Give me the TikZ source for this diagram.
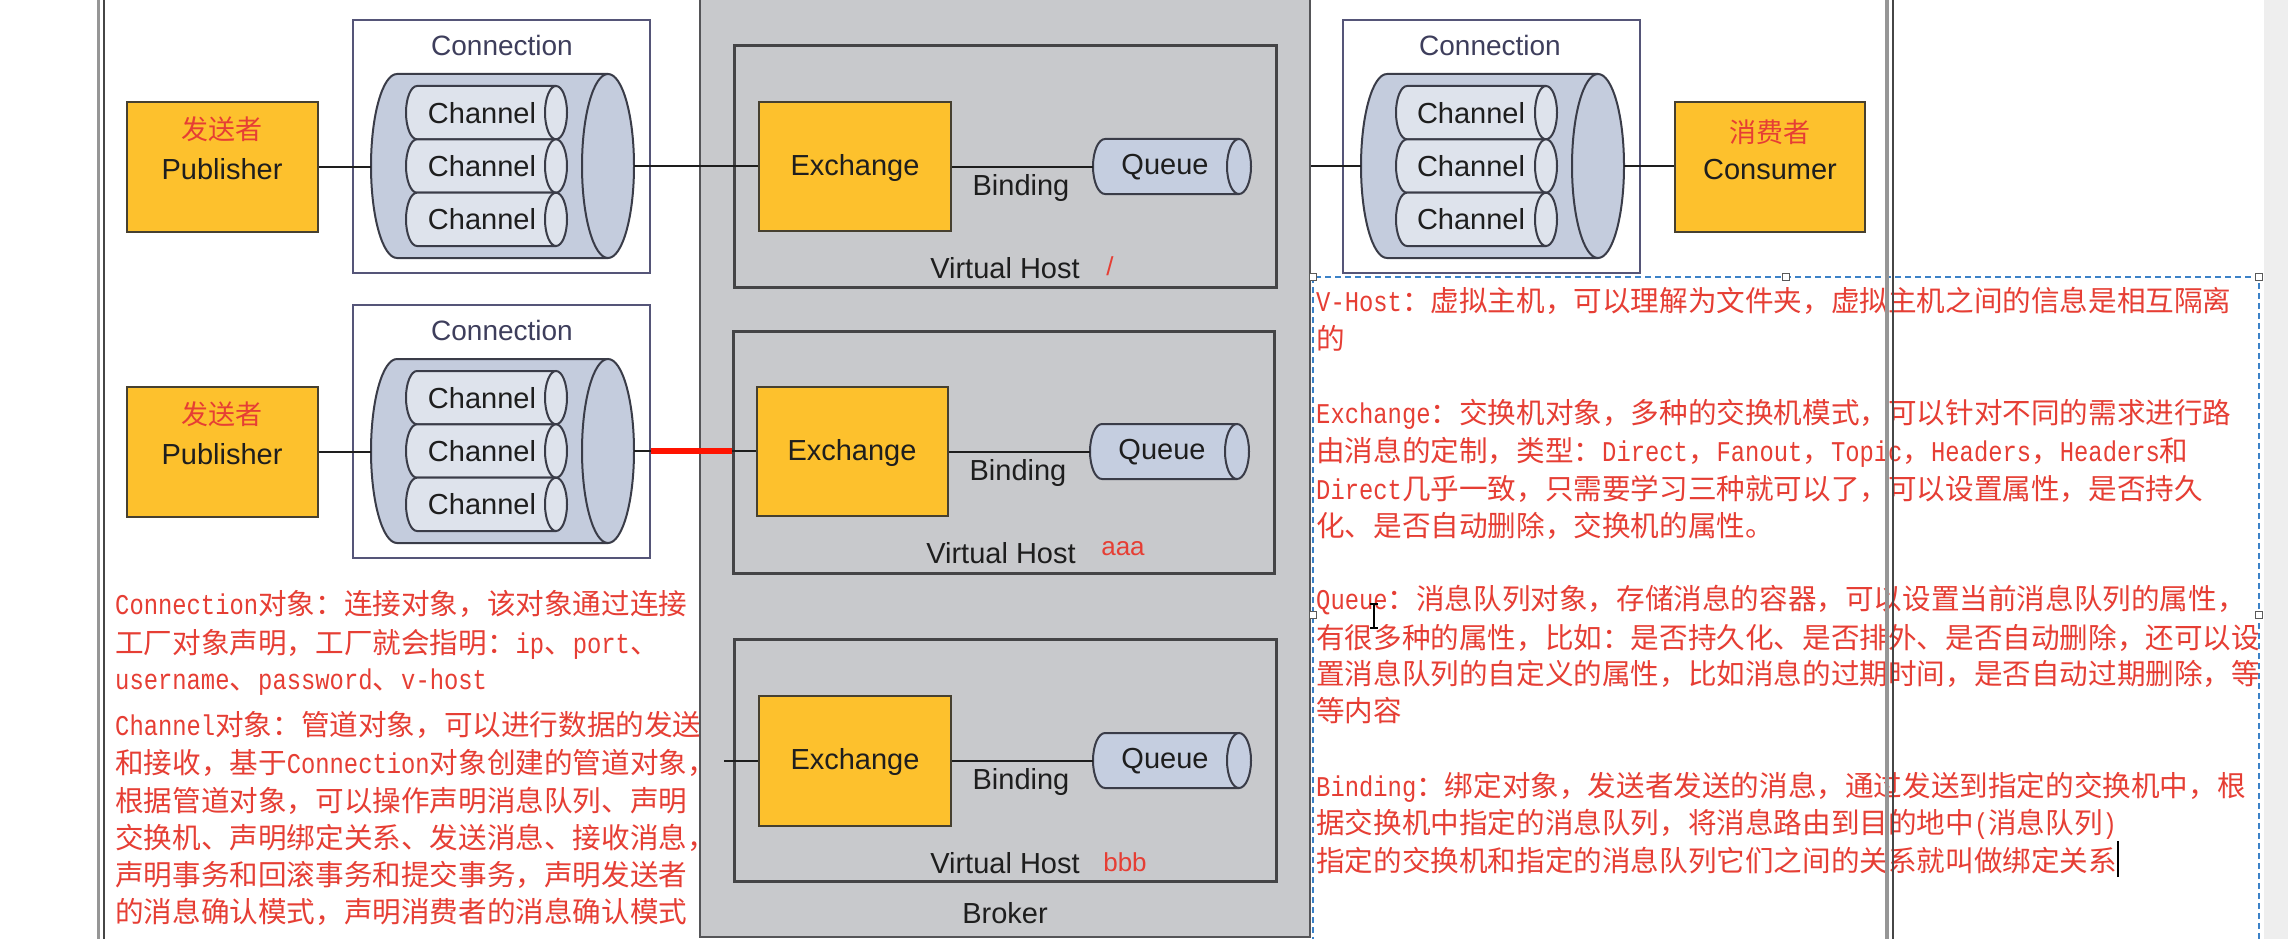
\documentclass[tikz,border=0pt]{standalone}
\usepackage{fontspec}
\setmainfont{Liberation Sans}
\newfontfamily\cjk{Noto Sans CJK SC}
\newfontfamily\lat[FakeStretch=0.8333]{Liberation Mono}
\definecolor{txtred}{RGB}{230,62,52}
\definecolor{brokerfill}{RGB}{200,201,204}
\definecolor{brokeredge}{RGB}{85,85,88}
\definecolor{vhedge}{RGB}{68,68,70}
\definecolor{exfill}{RGB}{253,193,45}
\definecolor{exedge}{RGB}{70,64,48}
\definecolor{cylfill}{RGB}{196,204,221}
\definecolor{chanfill}{RGB}{222,227,236}
\definecolor{quefill}{RGB}{197,206,224}
\definecolor{cyledge}{RGB}{58,60,72}
\definecolor{connedge}{RGB}{85,85,120}
\definecolor{conntext}{RGB}{62,62,92}
\definecolor{labeltext}{RGB}{30,30,30}
\definecolor{dashblue}{RGB}{60,130,200}
\definecolor{stripgrey}{RGB}{238,238,238}
\definecolor{framegrey}{RGB}{150,150,150}
\definecolor{framedark}{RGB}{70,70,70}
\newcommand{\hcylinder}[6]{%
  \pgfmathsetmacro\cyA{#1+#5}%
  \pgfmathsetmacro\cyB{#2-#5}%
  \pgfmathsetmacro\cyM{(#3+#4)/2}%
  \pgfmathsetmacro\cyK{0.5523*#5}%
  \pgfmathsetmacro\cyR{(#4-#3)/2}%
  \pgfmathsetmacro\cyKy{0.5523*\cyR}%
  \filldraw[fill=#6,draw=cyledge,line width=2pt,line join=round]
    (\cyA,#3) -- (\cyB,#3) -- (\cyB,#4) -- (\cyA,#4)
    .. controls (\cyA-\cyK,#4) and (#1,\cyM+\cyKy) .. (#1,\cyM)
    .. controls (#1,\cyM-\cyKy) and (\cyA-\cyK,#3) .. (\cyA,#3) -- cycle;
  \filldraw[fill=#6,draw=cyledge,line width=2pt] (\cyB,\cyM) ellipse [x radius=#5, y radius=\cyR];
}
\tikzset{
  lbl/.style={font=\fontsize{29pt}{34pt}\selectfont, text=labeltext, inner sep=0pt},
  conlbl/.style={font=\fontsize{28pt}{34pt}\selectfont, text=conntext, inner sep=0pt},
  redlbl/.style={font=\fontsize{26pt}{30pt}\selectfont, text=txtred, inner sep=0pt},
  cnlbl/.style={font=\cjk\fontsize{27pt}{30pt}\selectfont, text=txtred, inner sep=0pt},
  ybox/.style={draw=exedge, line width=2pt, fill=exfill, inner sep=0pt},
  vhbox/.style={draw=vhedge, line width=3pt, fill=brokerfill, inner sep=0pt},
  connbox/.style={draw=connedge, line width=2.5pt, fill=white, inner sep=0pt},
  anchorbox/.style={draw=none, inner sep=0pt},
  conn/.style={draw=labeltext, line width=2pt},
  redline/.style={draw=red!85!orange, line width=6pt},
  ptxt/.style={font=\cjk\fontsize{28.6pt}{30pt}\selectfont, text=txtred, inner sep=0pt, anchor=base west},
  handlebox/.style={draw=black!65, fill=white, line width=1.2pt, minimum size=7pt, inner sep=0pt},
  cursorline/.style={draw=black, line width=1.5pt},
}
\begin{document}
\begin{tikzpicture}[x=1pt,y=-1pt]
\useasboundingbox (0,0) rectangle (2288,939);
\fill[white] (0,0) rectangle (2288,939);
\fill[stripgrey] (2264,0) rectangle (2288,939);

% left explanatory text
\node[ptxt] (l1) at (115,614) {{\lat Connection}对象：连接对象，该对象通过连接};
\node[ptxt] (l2) at (115,653) {工厂对象声明，工厂就会指明：{\lat ip}、{\lat port}、};
\node[ptxt] (l3) at (115,689) {{\lat username}、{\lat password}、{\lat v-host}};
\node[ptxt] (l4) at (115,735) {{\lat Channel}对象：管道对象，可以进行数据的发送};
\node[ptxt] (l5) at (115,773) {和接收，基于{\lat Connection}对象创建的管道对象，};
\node[ptxt] (l6) at (115,811) {根据管道对象，可以操作声明消息队列、声明};
\node[ptxt] (l7) at (115,848) {交换机、声明绑定关系、发送消息、接收消息，};
\node[ptxt] (l8) at (115,885) {声明事务和回滚事务和提交事务，声明发送者};
\node[ptxt] (l9) at (115,922) {的消息确认模式，声明消费者的消息确认模式};

% broker
\node[draw=brokeredge, line width=2pt, fill=brokerfill, inner sep=0pt,
      minimum width=610pt, minimum height=957pt] (broker) at (1005,458.5) {};
\node[lbl] (brokert) at (1005,913) {Broker};

% virtual hosts
\node[vhbox, minimum width=542pt, minimum height=241pt] (vh1) at (1005,166.5) {};
\node[vhbox, minimum width=541pt, minimum height=242pt] (vh2) at (1003.5,452) {};
\node[vhbox, minimum width=542pt, minimum height=242pt] (vh3) at (1005,760) {};

\node[ybox, minimum width=192pt, minimum height=129pt] (ex1) at (855,166.5) {};
\node[ybox, minimum width=191pt, minimum height=129pt] (ex2) at (852.5,451.5) {};
\node[ybox, minimum width=192pt, minimum height=130pt] (ex3) at (855,761) {};
\node[lbl] (ex1t) at (855,168) {Exchange};
\node[lbl] (ex2t) at (852,453) {Exchange};
\node[lbl] (ex3t) at (855,762) {Exchange};

\hcylinder{1093}{1251}{139}{194}{12}{quefill}
\hcylinder{1090}{1249}{424}{479}{12}{quefill}
\hcylinder{1093}{1251}{733}{788}{12}{quefill}
\node[anchorbox, minimum width=158pt, minimum height=55pt] (q1) at (1172,166.5) {};
\node[anchorbox, minimum width=159pt, minimum height=55pt] (q2) at (1169.5,451.5) {};
\node[anchorbox, minimum width=158pt, minimum height=55pt] (q3) at (1172,760.5) {};
\node[lbl] (q1t) at (1165,167) {Queue};
\node[lbl] (q2t) at (1162,452) {Queue};
\node[lbl] (q3t) at (1165,761) {Queue};

\node[lbl] (b1) at (1021,188) {Binding};
\node[lbl] (b2) at (1018,473) {Binding};
\node[lbl] (b3) at (1021,782) {Binding};
\node[lbl] (v1) at (1005,268) {Virtual Host};
\node[lbl] (v2) at (1001,553) {Virtual Host};
\node[lbl] (v3) at (1005,863) {Virtual Host};
\node[redlbl] (r1lbl) at (1110,266) {/};
\node[redlbl] (r2lbl) at (1123,549) {aaa};
\node[redlbl] (r3lbl) at (1125,862) {bbb};

% connections (left, two rows) and right
\node[connbox, minimum width=297pt, minimum height=253pt] (conn1) at (501.5,146.5) {};
\node[connbox, minimum width=297pt, minimum height=253pt] (conn2) at (501.5,431.5) {};
\node[connbox, minimum width=297pt, minimum height=253pt] (conn3) at (1491.5,146.5) {};
\node[conlbl] (conn1t) at (502,45) {Connection};
\node[conlbl] (conn2t) at (502,330) {Connection};
\node[conlbl] (conn3t) at (1490,45) {Connection};

\hcylinder{371}{634}{74}{258}{26}{cylfill}
\hcylinder{371}{634}{359}{543}{26}{cylfill}
\hcylinder{1361}{1624}{74}{258}{26}{cylfill}
\node[anchorbox, minimum width=263pt, minimum height=184pt] (cyl1) at (502.5,166) {};
\node[anchorbox, minimum width=263pt, minimum height=184pt] (cyl2) at (502.5,451) {};
\node[anchorbox, minimum width=263pt, minimum height=184pt] (cyl3) at (1492.5,166) {};

% channels
\hcylinder{406}{567}{86}{139.3}{11}{chanfill}
\hcylinder{406}{567}{139.3}{192.7}{11}{chanfill}
\hcylinder{406}{567}{192.7}{246}{11}{chanfill}
\hcylinder{406}{567}{371}{424.3}{11}{chanfill}
\hcylinder{406}{567}{424.3}{477.7}{11}{chanfill}
\hcylinder{406}{567}{477.7}{531}{11}{chanfill}
\hcylinder{1396}{1557}{86}{139.3}{11}{chanfill}
\hcylinder{1396}{1557}{139.3}{192.7}{11}{chanfill}
\hcylinder{1396}{1557}{192.7}{246}{11}{chanfill}
\node[lbl] (c11) at (482,113) {Channel};
\node[lbl] (c12) at (482,166) {Channel};
\node[lbl] (c13) at (482,219.5) {Channel};
\node[lbl] (c21) at (482,398) {Channel};
\node[lbl] (c22) at (482,451) {Channel};
\node[lbl] (c23) at (482,504.5) {Channel};
\node[lbl] (c31) at (1471,113) {Channel};
\node[lbl] (c32) at (1471,166) {Channel};
\node[lbl] (c33) at (1471,219.5) {Channel};

% publishers and consumer
\node[ybox, minimum width=191pt, minimum height=130pt] (pub1) at (222,167) {};
\node[ybox, minimum width=191pt, minimum height=130pt] (pub2) at (222,452) {};
\node[ybox, minimum width=190pt, minimum height=130pt] (cons) at (1770,167) {};
\node[cnlbl] (pub1c) at (222,129) {发送者};
\node[lbl] (pub1t) at (222,169) {Publisher};
\node[cnlbl] (pub2c) at (222,414) {发送者};
\node[lbl] (pub2t) at (222,454) {Publisher};
\node[cnlbl] (consc) at (1770,132) {消费者};
\node[lbl] (const) at (1770,170) {Consumer};

% connectors
\draw[conn] (pub1.east) -- (pub1.east -| cyl1.west);
\draw[conn] (cyl1.east) -- (cyl1.east -| ex1.west);
\draw[conn] (ex1.east) -- (ex1.east -| q1.west);
\draw[conn] (broker.east |- cyl3.west) -- (cyl3.west);
\draw[conn] (cyl3.east) -- (cyl3.east -| cons.west);
\draw[conn] (pub2.east) -- (pub2.east -| cyl2.west);
\draw[conn] (cyl2.east) -- (cyl2.east -| ex2.west);
\draw[redline] (conn2.east |- cyl2.east) -- (vh2.west |- cyl2.east);
\draw[conn] (ex2.east) -- (ex2.east -| q2.west);
\coordinate (stub3) at (724,761);
\draw[conn] (stub3) -- (ex3.west);
\draw[conn] (ex3.east) -- (ex3.east -| q3.west);

% left frame
\draw[framegrey, line width=3pt] (98,0) -- (98,939);
\draw[framedark, line width=1.5pt] (104,0) -- (104,939);

% right text box
\draw[dashblue, line width=1.6pt, dash pattern=on 6pt off 4pt] (1313,277) rectangle (2259,960);
\node[ptxt] (r1) at (1316,311) {{\lat V-Host}：虚拟主机，可以理解为文件夹，虚拟主机之间的信息是相互隔离};
\node[ptxt] (r2) at (1316,349) {的};
\node[ptxt] (r3) at (1316,423) {{\lat Exchange}：交换机对象，多种的交换机模式，可以针对不同的需求进行路};
\node[ptxt] (r4) at (1316,461) {由消息的定制，类型：{\lat Direct}，{\lat Fanout}，{\lat Topic}，{\lat Headers}，{\lat Headers}和};
\node[ptxt] (r5) at (1316,499) {{\lat Direct}几乎一致，只需要学习三种就可以了，可以设置属性，是否持久};
\node[ptxt] (r6) at (1316,536) {化、是否自动删除，交换机的属性。};
\node[ptxt] (r7) at (1316,609) {{\lat Queue}：消息队列对象，存储消息的容器，可以设置当前消息队列的属性，};
\node[ptxt] (r8) at (1316,648) {有很多种的属性，比如：是否持久化、是否排外、是否自动删除，还可以设};
\node[ptxt] (r9) at (1316,684) {置消息队列的自定义的属性，比如消息的过期时间，是否自动过期删除，等};
\node[ptxt] (r10) at (1316,721) {等内容};
\node[ptxt] (r11) at (1316,796) {{\lat Binding}：绑定对象，发送者发送的消息，通过发送到指定的交换机中，根};
\node[ptxt] (r12) at (1316,833) {据交换机中指定的消息队列，将消息路由到目的地中{\lat (}消息队列{\lat )}};
\node[ptxt] (r13) at (1316,871) {指定的交换机和指定的消息队列它们之间的关系就叫做绑定关系};
\draw[cursorline] ([xshift=1pt,yshift=-6pt]r13.base east) -- ([xshift=1pt,yshift=30pt]r13.base east);
\draw[cursorline] (1374,604) -- (1374,628);
\draw[cursorline] (1370,604) -- (1378,604);
\draw[cursorline] (1370,628) -- (1378,628);

\node[handlebox] (h1) at (1313,277) {};
\node[handlebox] (h2) at (1786,277) {};
\node[handlebox] (h3) at (2259,277) {};
\node[handlebox] (h4) at (1313,615) {};
\node[handlebox] (h5) at (2259,615) {};

% right frame
\draw[framegrey, line width=4pt] (1887,0) -- (1887,939);
\draw[framedark, line width=1.5pt] (1893,0) -- (1893,939);
\end{tikzpicture}
\end{document}
